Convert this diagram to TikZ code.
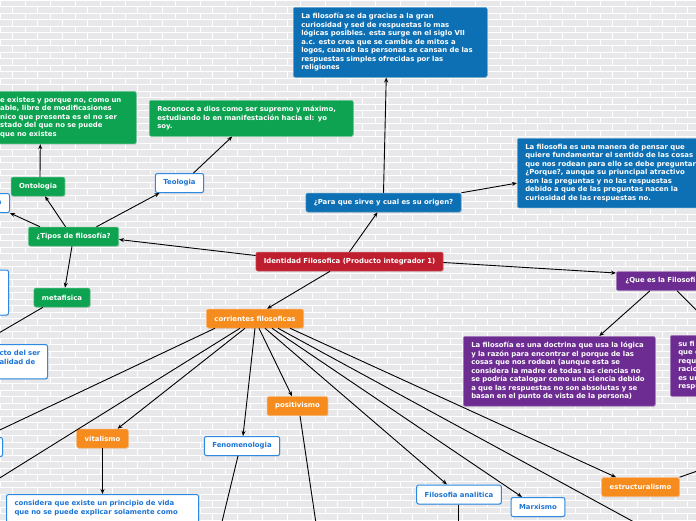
\documentclass[tikz,border=0pt]{standalone}
\usepackage{fontspec}
\setmainfont{DejaVu Sans}
\usetikzlibrary{arrows.meta,shadows}

\definecolor{crojo}{RGB}{190,30,45}
\definecolor{cazul}{RGB}{14,112,180}
\definecolor{cverde}{RGB}{13,163,80}
\definecolor{cnaranja}{RGB}{246,140,30}
\definecolor{cmorado}{RGB}{108,44,145}
\definecolor{cborde}{RGB}{45,138,226}
\definecolor{cletra}{RGB}{28,116,212}
\definecolor{cpared}{RGB}{232,232,235}

\begin{document}
\begin{tikzpicture}[x=1pt,y=-1pt,
  caja/.style={rounded corners=2pt,inner xsep=8pt,inner ysep=6pt,
    font=\fontsize{6.9}{8.5}\selectfont\bfseries,
    drop shadow={shadow xshift=0.6pt,shadow yshift=-0.8pt,opacity=0.25}},
  tema/.style={caja,minimum height=19pt,inner ysep=0pt},
  texto/.style={caja,anchor=north west,text width=#1,align=left},
  rojo/.style={fill=crojo,draw=crojo!60!white,line width=0.5pt,text=white},
  azul/.style={fill=cazul,draw=cazul!60!white,line width=0.5pt,text=white},
  verde/.style={fill=cverde,draw=cverde!60!white,line width=0.5pt,text=white},
  naranja/.style={fill=cnaranja,draw=cnaranja!60!white,line width=0.5pt,text=white},
  morado/.style={fill=cmorado,draw=cmorado!60!white,line width=0.5pt,text=white},
  blanco/.style={fill=white,draw=cborde,line width=1pt,text=cletra},
  flecha/.style={-{Stealth[length=5pt,width=4pt]},line width=0.9pt}]

  \path[use as bounding box] (0,0) rectangle (696,520);
  \clip (0,0) rectangle (696,520);

  \fill[cpared] (0,0) rectangle (696,520);
  \foreach \f in {0,...,80}{
    \pgfmathsetmacro{\yf}{\f*6.5}
    \pgfmathsetmacro{\xf}{mod(\f,2)*12.5}
    \draw[white,line width=0.8pt] (0,\yf) -- (696,\yf);
    \foreach \c in {0,...,28}
      \draw[white,line width=0.8pt] (\xf+\c*25,\yf) -- ++(0,6.5);
  }

  \node[tema,rojo] (ident) at (349.5,261.5) {Identidad Filosofica (Producto integrador 1)};

  \node[tema,azul] (para) at (383.5,202.5) {¿Para que sirve y cual es su origen?};
  \node[texto=178pt,azul] (origen) at (293,7) {La filosofía se da gracias a la gran\\curiosidad y sed de respuestas lo mas\\lógicas posibles. esta surge en el siglo VII\\a.c. esto crea que se cambie de mitos a\\logos, cuando las personas se cansan de las\\respuestas simples ofrecidas por las\\religiones};
  \node[texto=182pt,azul] (defin) at (517,138) {La filosofia es una manera de pensar que\\quiere fundamentar el sentido de las cosas\\que nos rodean para ello se debe preguntar\\¿Porque?, aunque su priuncipal atractivo\\son las preguntas y no las respuestas\\debido a que de las preguntas nacen la\\curiosidad de las respuestas no.};

  \node[tema,verde] (tipos) at (73.5,236.5) {¿Tipos de filosofía?};
  \node[tema,verde] (onto) at (38,186.5) {Ontologia};
  \node[texto=128pt,verde] (ontotxt) at (-8,91) {e existes y porque no, como un\\able, libre de modificasiones\\nico que presenta es el no ser\\stado del que no se puede\\que no existes};
  \node[tema,blanco] (teo) at (179.5,183) {Teologia};
  \node[texto=188pt,verde] (teotxt) at (149,100) {Reconoce a dios como ser supremo y máximo,\\estudiando lo en manifestación hacia el: yo\\soy.};
  \node[tema,blanco,anchor=east,text width=30pt,align=right] (epis) at (10,203) {a};
  \node[tema,verde] (meta) at (62,297.5) {metafisica};
  \node[caja,blanco,anchor=east,minimum width=40pt,minimum height=45pt] (izqA) at (9,292.5) {};
  \node[texto=40pt,blanco,anchor=north east] (metatxt) at (48,344) {\mbox{cto del ser}\\\mbox{alidad de}\\\mbox{}};

  \node[tema,naranja] (corr) at (255,318.5) {corrientes filosoficas};
  \node[tema,naranja] (vital) at (102.5,438.5) {vitalismo};
  \node[texto=176pt,blanco] (vitaltxt) at (6,494) {considera que existe un principio de vida\\que no se puede explicar solamente como\\\mbox{}\\\mbox{}};
  \node[tema,blanco] (fenom) at (242,446) {Fenomenologia};
  \node[tema,naranja] (posit) at (297.5,406) {positivismo};
  \node[tema,blanco] (analit) at (459,494.5) {Filosofia analitica};
  \node[tema,blanco] (marx) at (538,507) {Marxismo};
  \node[tema,naranja] (estruc) at (640.5,487) {estructuralismo};
  \node[tema,blanco,anchor=east,minimum width=30pt] (izqB) at (3,447) {};

  \node[tema,morado,anchor=west,text width=100pt,align=left,inner xsep=9pt] (quees) at (616,281) {¿Que es la Filosofi};
  \node[texto=176pt,morado] (queestxt) at (463,336) {La filosofía es una doctrina que usa la lógica\\y la razón para encontrar el porque de las\\cosas que nos rodean (aunque esta se\\considera la madre de todas las ciencias no\\se podría catalogar como una ciencia debido\\a que las respuestas no son absolutas y se\\basan en el punto de vista de la persona)};
  \node[texto=176pt,morado] (quees2) at (670,335) {su fi\\que e\\requ\\racio\\es un\\respu};

  \coordinate (finB) at (-10,484);
  \coordinate (finH) at (645,528);
  \coordinate (finF) at (220,530);
  \coordinate (finP) at (317,530);
  \coordinate (finA) at (458,530);
  \coordinate (finE) at (720,463);

  \draw[flecha] (ident.north) -- ([xshift=-6pt]para.south);
  \draw[flecha] (para.north) -- ([xshift=-4pt]origen.south);
  \draw[flecha] (para.north east) -- ([yshift=-10pt]defin.west);
  \draw[flecha] ([yshift=6pt]ident.west) -- ([yshift=-3pt]tipos.east);
  \draw[flecha] ([yshift=-1pt]ident.east) -- ([yshift=8pt]quees.west);
  \draw[flecha] ([xshift=-19.5pt]ident.south) -- ([xshift=12pt]corr.north);
  \draw[flecha] ([xshift=34pt]quees.south west) -- ([xshift=40pt]queestxt.north);
  \draw[flecha] ([xshift=61pt]quees.south west) -- ([xshift=51pt]quees2.north west);

  \draw[flecha] ([xshift=-8pt]tipos.north) -- ([xshift=7pt]onto.south);
  \draw[flecha] ([xshift=2pt]onto.north) -- ([xshift=-24pt]ontotxt.south);
  \draw[flecha] ([xshift=-33.5pt]tipos.north) -- (epis.south east);
  \draw[flecha] ([xshift=23pt]tipos.north) -- ([xshift=-20pt]teo.south);
  \draw[flecha] ([xshift=14pt]teo.north) -- ([xshift=-19pt]teotxt.south);
  \draw[flecha] ([xshift=-1.5pt]tipos.south) -- ([xshift=3pt]meta.north);
  \draw[flecha] ([xshift=-19pt]meta.south) -- ([xshift=-11pt]metatxt.north west);

  \draw[flecha] ([xshift=-40pt]corr.south) -- ([xshift=-18pt]izqB.north east);
  \draw[flecha] ([xshift=-15pt]corr.south) -- (finB);
  \draw[flecha] ([xshift=-10pt]corr.south) -- ([xshift=15pt]vital.north);
  \draw[flecha] (corr.south) -- ([xshift=1pt]fenom.north);
  \draw[flecha] ([xshift=4pt]corr.south) -- ([xshift=-5.5pt]posit.north);
  \draw[flecha] ([xshift=10pt]corr.south) -- ([xshift=-12pt]analit.north);
  \draw[flecha] ([xshift=17pt]corr.south) -- ([xshift=-16pt]marx.north);
  \draw[flecha] ([xshift=23pt]corr.south) -- (finH);
  \draw[flecha] ([xshift=35pt]corr.south) -- ([xshift=-24.5pt]estruc.north);

  \draw[flecha] (vital.south) -- (vitaltxt.north);
  \draw[flecha] ([xshift=-4pt]fenom.south) -- (finF);
  \draw[flecha] ([xshift=2.5pt]posit.south) -- (finP);
  \draw[flecha] ([xshift=-1pt]analit.south) -- (finA);
  \draw[flecha] (estruc.north east) -- (finE);
\end{tikzpicture}
\end{document}
